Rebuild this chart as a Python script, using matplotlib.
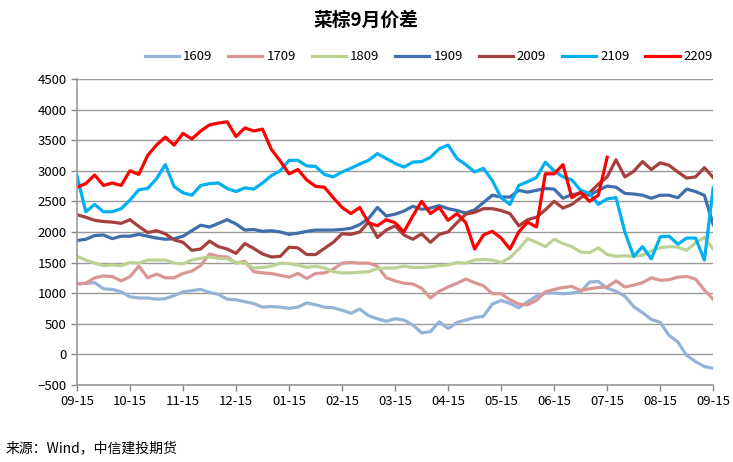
import matplotlib
matplotlib.use("Agg")
import matplotlib.pyplot as plt
import numpy as np

plt.rcParams['font.family'] = ['Noto Sans CJK SC', 'DejaVu Sans']

# 月份刻度 (每月15日)
tick_labels = ["09-15", "10-15", "11-15", "12-15", "01-15", "02-15", "03-15",
               "04-15", "05-15", "06-15", "07-15", "08-15", "09-15"]

# 采样点: 每 1/6 个月一个
n = 73
x = np.arange(n) / 6.0
nan = np.nan

s1609 = [1150, 1160, 1170, 1070, 1060, 1020, 940, 920, 920, 900, 910, 960, 1020,
         1040, 1060, 1010, 980, 900, 890, 860, 830, 770, 780, 770, 750, 770, 840,
         810, 770, 760, 720, 670, 740, 630, 580, 540, 580, 560, 480, 350, 370, 530,
         420, 520, 560, 600, 620, 820, 880, 830, 760, 860, 950, 1000, 1000, 990,
         1000, 1020, 1180, 1190, 1080, 1030, 950, 780, 680, 570, 520, 310, 200,
         -20, -120, -200, -230]
s1709 = [1150, 1160, 1250, 1280, 1270, 1200, 1270, 1440, 1250, 1310, 1250, 1250,
         1320, 1360, 1450, 1640, 1600, 1590, 1490, 1520, 1350, 1330, 1320, 1290,
         1260, 1320, 1240, 1320, 1330, 1390, 1490, 1500, 1490, 1490, 1440, 1250,
         1200, 1160, 1150, 1080, 920, 1030, 1100, 1160, 1230, 1170, 1120, 990, 990,
         890, 820, 810, 880, 1020, 1060, 1090, 1110, 1040, 1070, 1090, 1100, 1200,
         1100, 1130, 1170, 1250, 1210, 1220, 1260, 1270, 1230, 1050, 900]
s1809 = [1600, 1540, 1490, 1450, 1460, 1450, 1500, 1490, 1540, 1540, 1540, 1490,
         1480, 1540, 1570, 1590, 1570, 1560, 1500, 1490, 1410, 1420, 1440, 1490,
         1480, 1460, 1420, 1440, 1410, 1350, 1330, 1330, 1340, 1350, 1400, 1410,
         1410, 1440, 1420, 1420, 1430, 1450, 1460, 1500, 1490, 1540, 1550, 1540,
         1500, 1580, 1720, 1890, 1830, 1760, 1880, 1810, 1760, 1670, 1660, 1740,
         1630, 1600, 1610, 1600, 1620, 1690, 1740, 1760, 1750, 1700, 1820, 1910, 1720]
s1909 = [1860, 1880, 1940, 1950, 1890, 1930, 1930, 1960, 1930, 1900, 1880, 1890,
         1930, 2020, 2110, 2080, 2140, 2200, 2130, 2030, 2040, 2010, 2020, 2000,
         1960, 1980, 2010, 2030, 2030, 2030, 2040, 2060, 2120, 2220, 2400, 2260,
         2290, 2340, 2420, 2370, 2390, 2430, 2380, 2350, 2310, 2360, 2480, 2600,
         2570, 2570, 2680, 2650, 2680, 2710, 2700, 2550, 2610, 2630, 2600, 2680,
         2750, 2730, 2630, 2620, 2600, 2550, 2600, 2600, 2560, 2700, 2660, 2600, 2120]
s2009 = [2280, 2240, 2190, 2170, 2160, 2140, 2200, 2090, 1990, 2020, 1970, 1870,
         1830, 1700, 1720, 1850, 1760, 1720, 1650, 1810, 1730, 1640, 1590, 1600,
         1750, 1740, 1630, 1630, 1730, 1830, 1970, 1960, 2000, 2160, 1910, 2030,
         2100, 1950, 1880, 1970, 1830, 1960, 2000, 2150, 2290, 2320, 2380, 2380,
         2350, 2300, 2100, 2200, 2240, 2360, 2500, 2390, 2450, 2560, 2640, 2780,
         2900, 3180, 2900, 2990, 3150, 3020, 3130, 3090, 2980, 2880, 2900, 3050, 2890]
s2109 = [2920, 2330, 2450, 2330, 2330, 2380, 2520, 2690, 2710, 2870, 3100, 2740,
         2640, 2600, 2760, 2790, 2800, 2710, 2660, 2720, 2700, 2800, 2920, 3000,
         3170, 3170, 3080, 3070, 2940, 2900, 2980, 3040, 3110, 3170, 3280, 3200,
         3120, 3060, 3140, 3150, 3220, 3360, 3420, 3200, 3100, 2980, 3040, 2840,
         2560, 2450, 2760, 2820, 2890, 3140, 3000, 2900, 2850, 2680, 2630, 2450,
         2540, 2560, 2000, 1600, 1760, 1560, 1920, 1930, 1800, 1900, 1900, 1540, 2720]
s2209 = [2730, 2790, 2930, 2760, 2800, 2760, 3000, 2940, 3250, 3420, 3550, 3420,
         3610, 3520, 3650, 3750, 3780, 3800, 3560, 3700, 3650, 3680, 3350, 3160,
         2950, 3020, 2850, 2745, 2730, 2560, 2400, 2300, 2400, 2150, 2100, 2200,
         2150, 2000, 2260, 2500, 2300, 2400, 2190, 2300, 2150, 1720, 1950, 2010,
         1900, 1720, 2000, 2160, 2080, 2950, 2950, 3100, 2560, 2650, 2500, 2600,
         3220] + [nan] * 12

names = ["1609", "1709", "1809", "1909", "2009", "2109", "2209"]
series = [s1609, s1709, s1809, s1909, s2009, s2109, s2209]
colors = ["#95B3D7", "#D99694", "#BCD293", "#3F6EAA", "#A5403C", "#00B0F0", "#FF0000"]

fig = plt.figure(figsize=(7.33, 4.62), dpi=100)
ax = fig.add_axes([0.105, 0.167, 0.868, 0.662])

for nm, s, c in zip(names, series, colors):
    ax.plot(x, s, color=c, lw=2.3, label=nm, solid_joinstyle='round')

ax.set_xlim(0, 12)
ax.set_ylim(-500, 4500)
ax.set_yticks(np.arange(-500, 4501, 500))
ax.set_xticks(np.arange(13))
ax.set_xticklabels(tick_labels)
ax.tick_params(axis='both', labelsize=9.5, colors='#888888', labelcolor='#000000',
               length=4, width=1)
ax.yaxis.grid(True, color='#9A9A9A', lw=1)
ax.set_axisbelow(True)
for sp in ['top', 'right']:
    ax.spines[sp].set_visible(False)
for sp in ['left', 'bottom']:
    ax.spines[sp].set_color('#999999')
    ax.spines[sp].set_linewidth(1.2)

fig.text(0.5, 0.955, "菜棕9月价差", ha='center', va='center', fontsize=13.5, fontweight='bold')

fig.legend(loc='center', bbox_to_anchor=(0.585, 0.877), ncol=7, frameon=False,
           fontsize=9.5, handlelength=2.6, columnspacing=1.2, handletextpad=0.3)

fig.text(0.007, 0.03, "来源：Wind，中信建投期货", fontsize=10, ha='left', va='center')

fig.savefig("out.png", dpi=100)
